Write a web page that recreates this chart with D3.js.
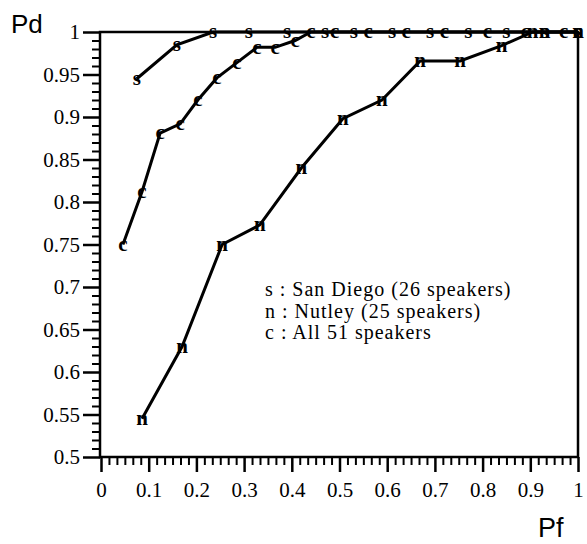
<html>
<head>
<meta charset="UTF-8" />
<style>
body { margin: 0; background: #fff; }
</style>
</head>
<body>
<script src="https://d3js.org/d3.v7.min.js" charset="utf-8"></script>
<script>
var width = 587;
var height = 544;

// San Diego (s)
var sanDiegoPf = [0.075, 0.159, 0.235, 0.31, 0.39, 0.47, 0.53, 0.61, 0.69, 0.77, 0.85, 0.93, 1.0];
var sanDiegoPd = [0.945, 0.985, 1, 1, 1, 1, 1, 1, 1, 1, 1, 1, 1];

// Nutley (n)
var nutleyPf = [0.086, 0.17, 0.254, 0.333, 0.42, 0.507, 0.589, 0.669, 0.753, 0.84, 0.905, 0.93, 1.0];
var nutleyPd = [0.545, 0.63, 0.75, 0.773, 0.84, 0.898, 0.92, 0.966, 0.966, 0.984, 1, 1, 1];

// all 51 speakers (c)
var allPf = [0.046, 0.086, 0.124, 0.166, 0.203, 0.243, 0.285, 0.327, 0.365, 0.407, 0.44, 0.49, 0.56, 0.64, 0.72, 0.81, 0.89, 0.97, 1.0];
var allPd = [0.75, 0.812, 0.881, 0.892, 0.92, 0.946, 0.964, 0.982, 0.982, 0.99, 1, 1, 1, 1, 1, 1, 1, 1, 1];

var xTicks = [0, 0.1, 0.2, 0.3, 0.4, 0.5, 0.6, 0.7, 0.8, 0.9, 1];
var yTicks = [0.5, 0.55, 0.6, 0.65, 0.7, 0.75, 0.8, 0.85, 0.9, 0.95, 1];

var legendLines = ["s : San Diego (26 speakers)", "n : Nutley (25 speakers)", "c : All 51 speakers"];

var series = [
	{mark: "s", pf: sanDiegoPf, pd: sanDiegoPd},
	{mark: "n", pf: nutleyPf, pd: nutleyPd},
	{mark: "c", pf: allPf, pd: allPd}
];

var svg = d3.select("body")
			.append("svg")
			.attr("width", width)
			.attr("height", height);

var x = d3.scaleLinear().domain([0, 1]).range([101, 578]);
var y = d3.scaleLinear().domain([0.5, 1]).range([457, 32]);

var serif = "'Liberation Serif', 'Times New Roman', serif";
var sans = "'Liberation Sans', Arial, sans-serif";

// minor ticks
var xMinor = d3.range(0, 61).map(i => i / 60).filter(v => Math.abs(v * 10 - Math.round(v * 10)) > 1e-6);
var yMinor = d3.range(0, 51).map(i => 0.5 + i / 100).filter(v => Math.abs(v * 20 - Math.round(v * 20)) > 1e-6);

svg.append("g")
   .attr("transform", "translate(0,457)")
   .call(d3.axisBottom(x).tickValues(xMinor).tickSize(8).tickFormat(""))
   .call(g => g.select(".domain").remove())
   .selectAll("line").attr("stroke-width", 2);

svg.append("g")
   .attr("transform", "translate(100,0)")
   .call(d3.axisLeft(y).tickValues(yMinor).tickSize(8).tickFormat(""))
   .call(g => g.select(".domain").remove())
   .selectAll("line").attr("stroke-width", 2);

var xAxis = svg.append("g")
   .attr("transform", "translate(0,457)")
   .call(d3.axisBottom(x).tickValues(xTicks).tickSize(15).tickPadding(10).tickFormat(d3.format("")))
   .call(g => g.select(".domain").remove());
xAxis.selectAll("line").attr("stroke-width", 2.5);
xAxis.selectAll("text")
	 .style("font-family", serif)
	 .style("font-size", "21px")
	 .attr("fill", "#000");

var yAxis = svg.append("g")
   .attr("transform", "translate(100,0)")
   .call(d3.axisLeft(y).tickValues(yTicks).tickSize(17).tickPadding(3).tickFormat(d3.format("")))
   .call(g => g.select(".domain").remove());
yAxis.selectAll("line").attr("stroke-width", 2.5);
yAxis.selectAll("text")
	 .style("font-family", serif)
	 .style("font-size", "21px")
	 .attr("fill", "#000");

// frame
svg.append("rect")
   .attr("x", x(0) - 1)
   .attr("y", y(1))
   .attr("width", x(1) - x(0) + 1)
   .attr("height", y(0.5) - y(1))
   .attr("fill", "none")
   .attr("stroke", "#000")
   .attr("stroke-width", 2.5);

var line = d3.line().x(d => x(d[0])).y(d => y(d[1]));

series.forEach(function(s) {
	var pts = s.pf.map((v, i) => [v, s.pd[i]]);
	svg.append("path")
	   .datum(pts)
	   .attr("d", line)
	   .attr("fill", "none")
	   .attr("stroke", "#000")
	   .attr("stroke-width", 3);
	svg.append("g")
	   .selectAll("text")
	   .data(pts)
	   .enter()
	   .append("text")
	   .attr("x", d => x(d[0]))
	   .attr("y", d => y(d[1]))
	   .attr("dy", "0.3em")
	   .attr("text-anchor", "middle")
	   .style("font-family", serif)
	   .style("font-weight", "bold")
	   .style("font-size", "21px")
	   .text(s.mark);
});

// axis titles
svg.append("text")
   .attr("x", 11)
   .attr("y", 33)
   .style("font-family", sans)
   .style("font-size", "26px")
   .text("Pd");

svg.append("text")
   .attr("x", 538)
   .attr("y", 537)
   .style("font-family", sans)
   .style("font-size", "27px")
   .text("Pf");

// legend
svg.append("g")
   .selectAll("text")
   .data(legendLines)
   .enter()
   .append("text")
   .attr("x", 265)
   .attr("y", (d, i) => 296 + i * 21.5)
   .style("font-family", serif)
   .style("font-size", "20px")
   .style("letter-spacing", "1px")
   .text(d => d);
</script>
</body>
</html>
